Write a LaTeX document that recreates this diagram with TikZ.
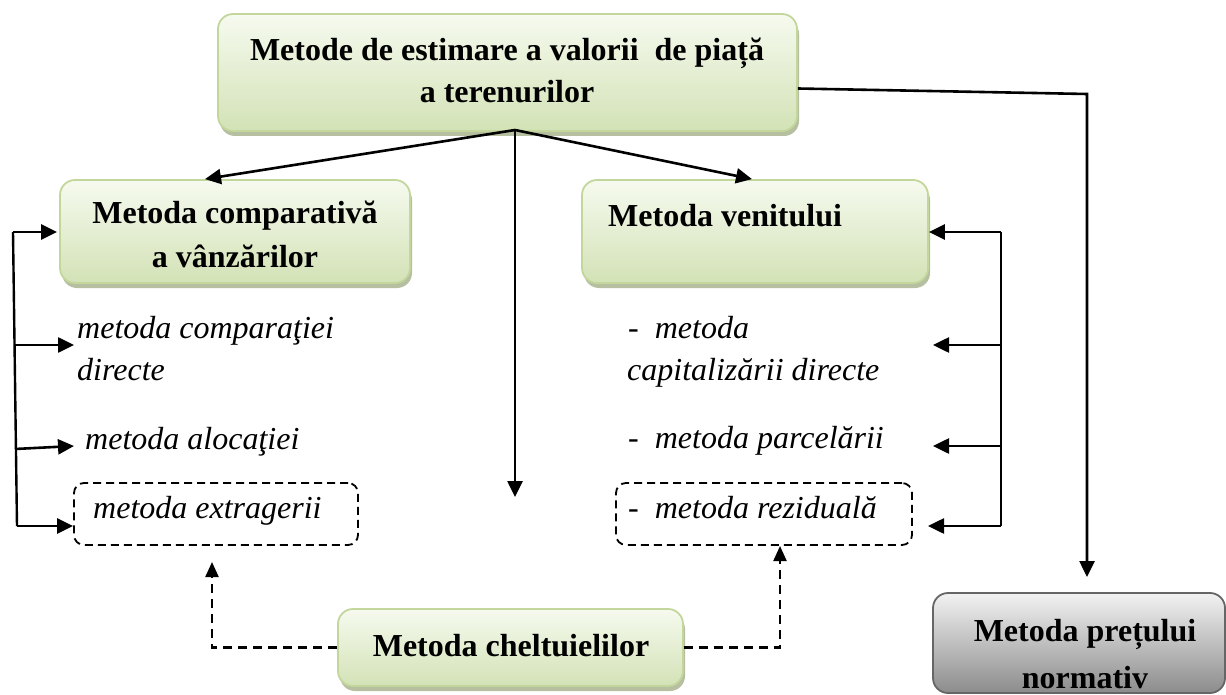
\documentclass[tikz,border=0pt]{standalone}
\usepackage{fontspec}
\setmainfont{Liberation Serif}
\usetikzlibrary{arrows.meta,shadows,calc}
\definecolor{gborder}{HTML}{C3D69B}
\definecolor{gtop}{HTML}{F6FAEF}
\definecolor{gbot}{HTML}{D3E2B6}
\definecolor{gshadow}{HTML}{A9B48F}
\definecolor{grborder}{HTML}{666666}
\definecolor{grtop}{HTML}{F2F2F2}
\definecolor{grbot}{HTML}{8C8C8C}
\begin{document}
\begin{tikzpicture}[x=1pt,y=-1pt,
  gbox/.style={draw=gborder, line width=1.8pt, rounded corners=15pt,
    top color=gtop, bottom color=gbot, inner sep=0pt,
    drop shadow={shadow xshift=2pt, shadow yshift=-5pt, fill=gshadow, opacity=0.85}},
  graybox/.style={draw=grborder, line width=1.8pt, rounded corners=15pt,
    top color=grtop, bottom color=grbot, inner sep=0pt},
  dbox/.style={draw=black, line width=1.8pt, dash pattern=on 8pt off 5pt,
    rounded corners=10pt, inner sep=0pt},
  btext/.style={font=\fontsize{32pt}{40pt}\selectfont\bfseries, inner sep=0pt, anchor=base},
  itext/.style={font=\fontsize{32pt}{40pt}\selectfont\itshape, inner sep=0pt, anchor=base west},
  arr/.style={line width=2.6pt, -{Triangle[length=16pt,width=15pt]}},
  plain/.style={line width=2.4pt},
  darr/.style={line width=2.2pt, dash pattern=on 9pt off 6pt, -{Triangle[length=15pt,width=13pt]}}
]
\useasboundingbox (0,0) rectangle (1226,695);

% boxes
\node[gbox, minimum width=579pt, minimum height=117pt] (top) at (507.5,72.5) {};
\node[gbox, minimum width=350pt, minimum height=103pt] (lbox) at (235,231.5) {};
\node[gbox, minimum width=346pt, minimum height=103pt] (rbox) at (755,231.5) {};
\node[gbox, minimum width=345pt, minimum height=77pt] (bbox) at (510.5,647.5) {};
\node[graybox, minimum width=292pt, minimum height=100pt] (gbx) at (1079,643) {};
\node[dbox, minimum width=284pt, minimum height=62pt] (xbox) at (216,514) {};
\node[dbox, minimum width=296pt, minimum height=62pt] (zbox) at (764,514) {};

% bold texts
\node[btext] (t1) at (507,61) {Metode de estimare a valorii\ \ de piață};
\node[btext] (t2) at (507,103) {a terenurilor};
\node[btext] (l1) at (235,223) {Metoda comparativă};
\node[btext] (l2) at (235,267) {a vânzărilor};
\node[btext, anchor=base west] (r1) at (608,226) {Metoda venitului};
\node[btext] (b1) at (511,656) {Metoda cheltuielilor};
\node[btext] (g1) at (1085,641) {Metoda prețului};
\node[btext] (g2) at (1085,688) {normativ};

% italic texts
\node[itext] (tc1) at (77,338) {metoda comparaţiei};
\node[itext] (tc2) at (77,380) {directe};
\node[itext] (ta) at (85,449) {metoda alocaţiei};
\node[itext] (te) at (93,518) {metoda extragerii};
\node[itext] (rc1) at (628,338) {-\hspace{16pt}metoda};
\node[itext] (rc2) at (627,380) {capitalizării directe};
\node[itext] (rp) at (628,448) {-\hspace{16pt}metoda parcelării};
\node[itext] (rr) at (628,518) {-\hspace{16pt}metoda reziduală};

% connectors from the top box
\coordinate (tb) at (515,130);
\coordinate (vend) at (515,497);
\coordinate (rt1) at (1087,94);
\coordinate (rt2) at (1087,577);
\draw[arr] (tb) -- ([xshift=-30pt]lbox.north);
\draw[arr] (tb) -- ([xshift=-3pt]rbox.north);
\draw[arr] (tb) -- (vend);
\draw[arr] ([yshift=-16pt]top.east) -- (rt1) -- (rt2);

% left bracket
\coordinate (L0) at (13,232);
\coordinate (L1) at (14,345);
\coordinate (L2) at (15,449);
\coordinate (L3) at (17,526);
\draw[plain] (L0) -- (L3);
\draw[arr] (L0) -- ($(lbox.west |- L0)+(-2,0)$);
\draw[arr] (L1) -- ($(tc1.west |- L1)+(-3,0)$);
\draw[arr] (L2) -- ($(ta.west |- 0,446)+(-11,0)$);
\draw[arr] (L3) -- (xbox.west |- L3);

% right bracket
\coordinate (R0) at (1001,232);
\coordinate (R1) at (1001,345);
\coordinate (R2) at (1001,446);
\coordinate (R3) at (1001,526);
\coordinate (R1e) at (933,345);
\coordinate (R2e) at (933,446);
\coordinate (R3e) at (928,526);
\draw[plain] (R0) -- (R3);
\draw[arr] (R0) -- (rbox.east |- R0);
\draw[arr] (R1) -- (R1e);
\draw[arr] (R2) -- (R2e);
\draw[arr] (R3) -- (R3e);

% dashed connectors from the bottom box
\coordinate (dl1) at (212,647.5);
\coordinate (dl2) at (212,562);
\coordinate (dr1) at (780,647.5);
\coordinate (dr2) at (780,546);
\draw[darr] (bbox.west) -- (dl1) -- (dl2);
\draw[darr] (bbox.east) -- (dr1) -- (dr2);
\end{tikzpicture}
\end{document}
